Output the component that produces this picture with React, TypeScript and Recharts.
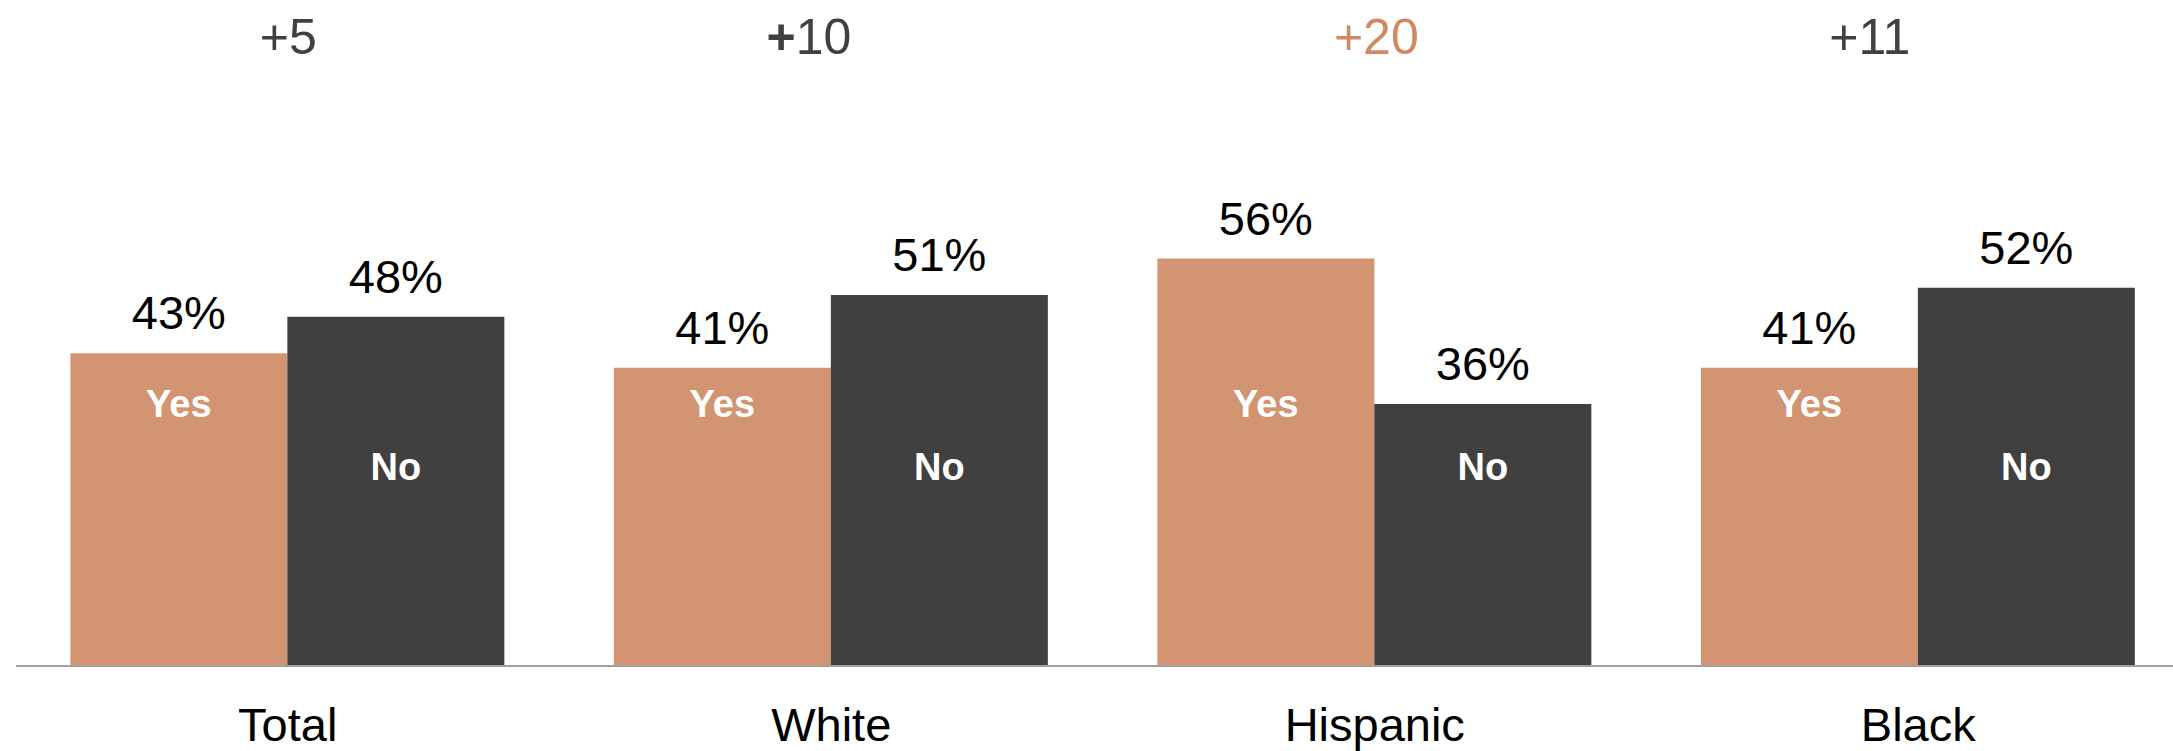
import React from "react";
import { BarChart, Bar, XAxis, YAxis, LabelList } from "recharts";

const categories = ["Total", "White", "Hispanic", "Black"];
const yesValues = [43, 41, 56, 41];
const noValues = [48, 51, 36, 52];
const diffLabels = ["+5", "+10", "+20", "+11"];
const diffColors = ["#404040", "#404040", "#D08A62", "#404040"];
const diffPlusBold = [false, true, false, false];

const data = categories.map((cat, i) => ({
  cat,
  yes: yesValues[i],
  no: noValues[i],
  diff: diffLabels[i],
}));

const FONT = "'Liberation Sans', Arial, sans-serif";
const ORANGE = "#D39571";
const DARK = "#404040";
// horizontal nudges of the difference labels (style, not data)
const DIFF_NUDGE = [1, -22, 2, -48];

const getBox = (p: any) => {
  const vb = p.viewBox && p.viewBox.width !== undefined ? p.viewBox : p;
  return { x: Number(vb.x), y: Number(vb.y), width: Number(vb.width), height: Number(vb.height) };
};

const makeInside = (text: string, up: number) => (p: any) => {
  const { x, y, width, height } = getBox(p);
  const bottom = y + height;
  return (
    <text
      x={x + width / 2}
      y={bottom - up}
      textAnchor="middle"
      fill="#FFFFFF"
      fontWeight="bold"
      fontSize={38}
      fontFamily={FONT}
    >
      {text}
    </text>
  );
};

const DiffLabel = (p: any) => {
  const { x, y, width, height } = getBox(p);
  const bottom = y + height;
  const i = p.index ?? 0;
  const s = String(p.value ?? diffLabels[i]);
  const bold = diffPlusBold[i];
  return (
    <text
      x={x + width + (DIFF_NUDGE[i] || 0)}
      y={bottom - 612}
      textAnchor="middle"
      fill={diffColors[i]}
      fontSize={50}
      fontFamily={FONT}
    >
      {bold ? (
        <>
          <tspan fontWeight="bold">{s.slice(0, 1)}</tspan>
          <tspan>{s.slice(1)}</tspan>
        </>
      ) : (
        s
      )}
    </text>
  );
};

export default function App() {
  return (
    <div
      style={{
        position: "fixed",
        left: 0,
        top: 0,
        width: 2173,
        height: 751,
        overflow: "hidden",
        background: "#FFFFFF",
      }}
    >
      <BarChart
        width={2200}
        height={751}
        data={data}
        margin={{ top: 84, right: 10, bottom: 0, left: 16 }}
        barCategoryGap="10%"
        barGap={0}
      >
        <XAxis
          dataKey="cat"
          height={85}
          tickLine={false}
          axisLine={{ stroke: "#A0A0A0", strokeWidth: 2 }}
          tickSize={6}
          tickMargin={36}
          tick={{ fontSize: 47, fill: "#000000", fontFamily: FONT }}
          interval={0}
        />
        <YAxis hide domain={[0, 80]} />
        <Bar dataKey="yes" fill={ORANGE} isAnimationActive={false}>
          <LabelList
            dataKey="yes"
            position="top"
            offset={24}
            formatter={(v: any) => `${v}%`}
            fill="#000000"
            fontSize={47}
            fontFamily={FONT}
          />
          <LabelList dataKey="yes" content={makeInside("Yes", 249)} />
          <LabelList dataKey="diff" content={DiffLabel} />
        </Bar>
        <Bar dataKey="no" fill={DARK} isAnimationActive={false}>
          <LabelList
            dataKey="no"
            position="top"
            offset={24}
            formatter={(v: any) => `${v}%`}
            fill="#000000"
            fontSize={47}
            fontFamily={FONT}
          />
          <LabelList dataKey="no" content={makeInside("No", 186)} />
        </Bar>
      </BarChart>
    </div>
  );
}
